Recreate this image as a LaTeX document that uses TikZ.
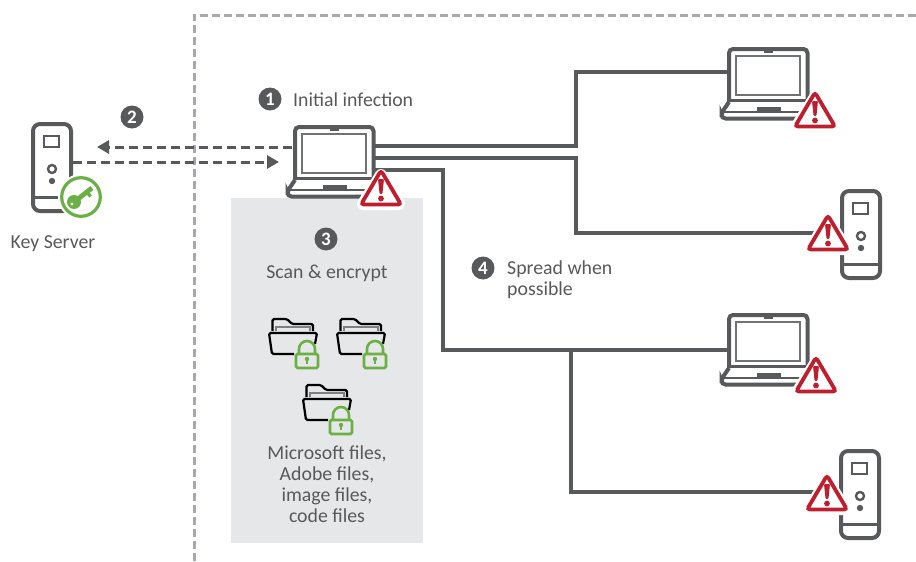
\documentclass[tikz,border=0pt]{standalone}
\usepackage{fontspec}
\setmainfont{Carlito}
\usetikzlibrary{arrows.meta}
\definecolor{ink}{HTML}{58595B}
\definecolor{dashgray}{HTML}{A7A9AC}
\definecolor{boxgray}{HTML}{E6E7E8}
\definecolor{alertred}{HTML}{BE1E2D}
\definecolor{keygreen}{HTML}{6AB044}
\tikzset{
    x=1pt,y=-1pt,
    lbl/.style={text=ink,font=\fontsize{19.8}{21}\selectfont,inner sep=0pt},
    badge/.style={circle,fill=ink,text=white,minimum size=23pt,inner sep=0pt,font=\fontsize{19}{19}\selectfont\bfseries},
    wire/.style={ink,line width=3.4pt},
    dashwire/.style={ink,line width=3pt,dash pattern=on 9pt off 5pt,-{Triangle[length=12pt,width=13pt]}},
    pics/laptop/.style={code={
        \coordinate (-a) at (82,21);
        \coordinate (-b) at (82,33);
        \coordinate (-c) at (82,45);
        \draw[ink,line width=4pt,rounded corners=4pt] (2,55) -- (2,2) -- (80.5,2) -- (80.5,55);
        \draw[ink!85,line width=1.9pt] (9,9) rectangle (73,48);
        \fill[ink] (37,2) rectangle (46,5.5);
        \draw[ink,line width=3.2pt] (2,53.5) -- (80.5,53.5);
        \draw[ink,line width=4pt,rounded corners=4pt] (2,55) -- (-5.5,66) -- (-5.5,71.5) -- (80,71.5);
        \draw[ink,line width=2pt] (-3,65) -- (80,65);
        \fill[ink] (30,60) rectangle (54,65);
    }},
    pics/tower/.style={code={
        \coordinate (-a) at (42,40);
        \draw[ink,line width=4pt,rounded corners=7pt] (2,2) rectangle (40,89);
        \draw[ink,line width=2.2pt] (13,14) rectangle (28,25);
        \draw[ink,line width=2.4pt] (21,47) circle[radius=4pt];
        \fill[ink] (21,59) circle[radius=3.2pt];
        \draw[ink,line width=2.2pt] (2,75.5) -- (40,75.5);
    }},
    pics/warn/.style={code={
        \draw[white,line width=12pt,line join=round] (0,6) -- (-18,35) -- (18,35) -- cycle;
        \draw[alertred,fill=white,line width=3.8pt,rounded corners=3pt] (0,1.5) -- (-20,35.5) -- (20,35.5) -- cycle;
        \fill[alertred,rounded corners=1pt] (-3,10) -- (3,10) -- (1.4,25) -- (-1.4,25) -- cycle;
        \fill[alertred] (0,29.5) circle[radius=2.9pt];
    }},
    pics/folderlock/.style={code={
        \draw[black,line width=2.2pt,rounded corners=1.5pt] (4.5,13) -- (4.5,1) -- (19,1) -- (24,6) -- (45,6) -- (45,13);
        \draw[gray,line width=1.3pt] (8,13) -- (8,9) -- (42,9) -- (42,13);
        \draw[black,line width=2.2pt,rounded corners=1.5pt] (26,36) -- (4,36) -- (1,15) -- (49,15) -- (47,26);
        \draw[keygreen,line width=2.6pt] (31,36) -- (31,31) arc[start angle=180,end angle=0,radius=8pt] -- (47,36);
        \draw[keygreen,fill=boxgray,line width=2.6pt,rounded corners=1.5pt] (28,36) rectangle (50,50);
        \fill[keygreen] (39,41) circle[radius=2.2pt];
        \fill[keygreen] (38.2,41) rectangle (39.8,46);
    }},
    pics/keybadge/.style={code={
        \draw[white,line width=3pt,fill=white] (0,0) circle[radius=21.5pt];
        \draw[keygreen,line width=3.2pt,fill=white] (0,0) circle[radius=19.3pt];
        \draw[keygreen,line width=4.8pt] (-7,5) -- (11,-9);
        \draw[keygreen,line width=3.4pt] (6,-5) -- (9.5,-0.5);
        \fill[keygreen] (-7,5) circle[radius=7pt];
        \fill[white] (-9,7) circle[radius=1.7pt];
    }},
}
\begin{document}
\begin{tikzpicture}
    \useasboundingbox (0,0) rectangle (916,562);
    \fill[boxgray] (231,198) rectangle (423,543);
    \draw[dashgray,line width=3pt,dash pattern=on 8pt off 4pt] (916,15) -- (194,15) -- (194,562);
    % machines
    \pic (serverKey) at (31,122) {tower};
    \pic (lapMain) at (293,125) {laptop};
    \pic (lapA) at (727,47) {laptop};
    \pic (lapB) at (727,313) {laptop};
    \pic (serverA) at (840,189) {tower};
    \pic (serverB) at (839,449) {tower};
    \coordinate (tapA) at (727,72);
    \coordinate (tapB) at (727,350);
    \coordinate (tapC) at (840,233);
    \coordinate (tapD) at (839,492);
    \coordinate (joinD) at (571,350);
    % network
    \draw[wire] (lapMain-a) -- (576,146) -- (576,72) -- (tapA);
    \draw[wire] (lapMain-b) -- (576,158) -- (576,233) -- (tapC);
    \draw[wire] (lapMain-c) -- (443,170) -- (443,350) -- (tapB);
    \draw[wire] (joinD) -- (571,492) -- (tapD);
    \coordinate (keyOut) at (73,162);
    \coordinate (keyIn) at (97,147);
    \coordinate (lapIn) at (279,162);
    \coordinate (lapOut) at (292,147);
    \draw[dashwire] (lapOut) -- (keyIn);
    \draw[dashwire] (keyOut) -- (lapIn);
    % overlays
    \pic at (81,197) {keybadge};
    \pic at (381,169) {warn};
    \pic at (815,91) {warn};
    \pic at (828,214) {warn};
    \pic at (816,356) {warn};
    \pic at (827,474) {warn};
    \pic at (268,318) {folderlock};
    \pic at (336,318) {folderlock};
    \pic at (302,384) {folderlock};
    % labels
    \node[badge] (stepOne) at (270,99) {1};
    \node[badge] (stepTwo) at (132,117) {2};
    \node[badge] (stepThree) at (326,239) {3};
    \node[badge] (stepFour) at (483,268) {4};
    \node[lbl,anchor=west] (infection) at (293,100) {Initial infection};
    \node[lbl] (keyLabel) at (53,244) {Key Server};
    \node[lbl] (scanLabel) at (327,273) {Scan \& encrypt};
    \node[lbl,anchor=north west,align=left] (spreadLabel) at (507,261) {Spread when\\possible};
    \node[lbl,anchor=north,align=center] (filesLabel) at (327,446) {Microsoft files,\\Adobe files,\\image files,\\code files};
\end{tikzpicture}
\end{document}
